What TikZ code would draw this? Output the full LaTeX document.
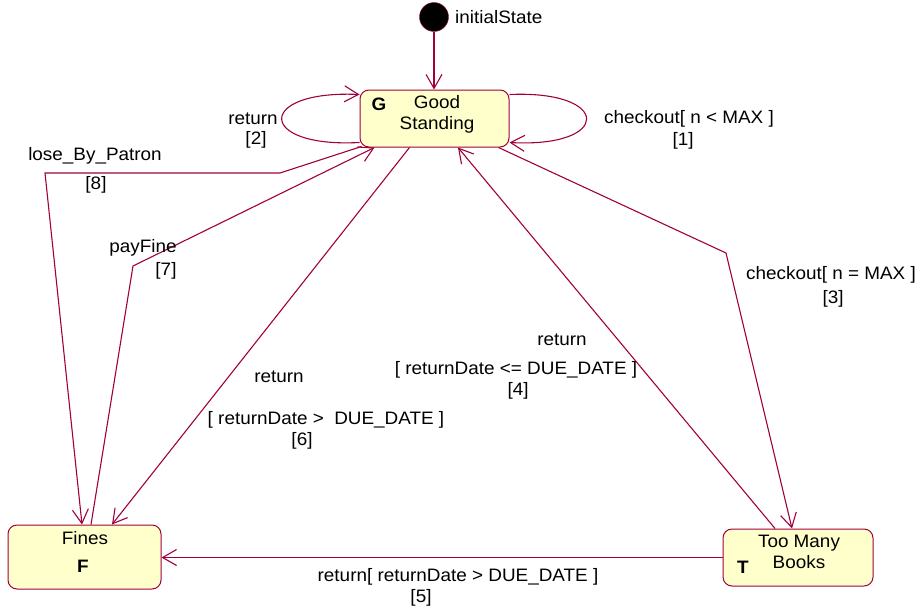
\documentclass[tikz,border=0pt]{standalone}
\usepackage{fontspec}
\setmainfont[FakeStretch=1.05]{Liberation Sans}
\usetikzlibrary{arrows.meta}
\definecolor{umlred}{RGB}{160,0,60}
\definecolor{umlfill}{RGB}{255,255,204}
\begin{document}
\begin{tikzpicture}[x=1pt,y=-1pt,
   font=\fontsize{18}{21}\selectfont,
   state/.style={draw=umlred,fill=umlfill,rounded corners=9pt,line width=1pt},
   trans/.style={draw=umlred,line width=1.1pt,-{Straight Barb[length=14pt,width=16pt]}},
   lbl/.style={inner sep=0pt,align=center},
   letter/.style={inner sep=0pt,font=\fontsize{18}{21}\selectfont\bfseries}]
\useasboundingbox (0,0) rectangle (915,610);

% states
\node[circle,fill=black,draw=umlred,minimum size=29pt,inner sep=0pt] (init) at (434,17) {};
\node[lbl,anchor=west] (initname) at (455,17) {initialState};
\node[state,minimum width=149pt,minimum height=57pt] (good) at (434.5,118.5) {};
\node[lbl] (goodname) at (437,114) {Good\\Standing};
\node[letter] (goodG) at (379,104) {G};
\node[state,minimum width=153pt,minimum height=64pt] (fines) at (84.5,557) {};
\node[lbl] (finesname) at (85,538) {Fines};
\node[letter] (finesF) at (83,566) {F};
\node[state,minimum width=150pt,minimum height=57pt] (many) at (798,557.5) {};
\node[lbl] (manyname) at (799,552) {Too Many\\Books};
\node[letter] (manyT) at (743,567) {T};

% transitions
\draw[trans] (init.south) -- (init.south |- good.north);
\draw[trans] ([yshift=-24pt]good.west) .. controls (256,148) and (256,90) .. ([yshift=24pt]good.west);
\draw[trans] ([yshift=24pt]good.east) .. controls (612,90) and (612,148) .. ([yshift=-24pt]good.east);
\draw[trans] ([xshift=2pt,yshift=1pt]good.south west) -- (280,173) -- (45,173) -- ([xshift=-2.5pt]fines.north);
\draw[trans] ([xshift=6.5pt]fines.north) -- (133,266) -- ([xshift=15pt]good.south west);
\draw[trans] ([xshift=50pt]good.south west) -- ([xshift=27.5pt]fines.north);
\draw[trans] ([xshift=-23pt]many.north) -- ([xshift=23.5pt]good.south);
\draw[trans] ([xshift=-11pt]good.south east) -- (726,253) -- ([xshift=-6pt]many.north);
\draw[trans] (many.west) -- (many.west -| fines.east);

% labels
\node[lbl] (ret2) at (253,119) {return};
\node[lbl] (num2) at (256,140) {[2]};
\node[lbl] (chk1) at (689,119) {checkout[ n < MAX ]};
\node[lbl] (num1) at (683,141) {[1]};
\node[lbl] (lose8) at (95,156) {lose\_By\_Patron};
\node[lbl] (num8) at (96,185) {[8]};
\node[lbl] (pay7) at (143,248) {payFine};
\node[lbl] (num7) at (166,271) {[7]};
\node[lbl] (ret6) at (279,377) {return};
\node[lbl] (guard6) at (326,420) {[ returnDate >\ \ DUE\_DATE ]};
\node[lbl] (num6) at (302,441) {[6]};
\node[lbl] (ret4) at (562,340) {return};
\node[lbl] (guard4) at (516,370) {[ returnDate <= DUE\_DATE ]};
\node[lbl] (num4) at (518,391) {[4]};
\node[lbl] (chk3) at (831,275) {checkout[ n = MAX ]};
\node[lbl] (num3) at (833,299) {[3]};
\node[lbl] (ret5) at (458,577) {return[ returnDate > DUE\_DATE ]};
\node[lbl] (num5) at (421,598) {[5]};
\end{tikzpicture}
\end{document}
